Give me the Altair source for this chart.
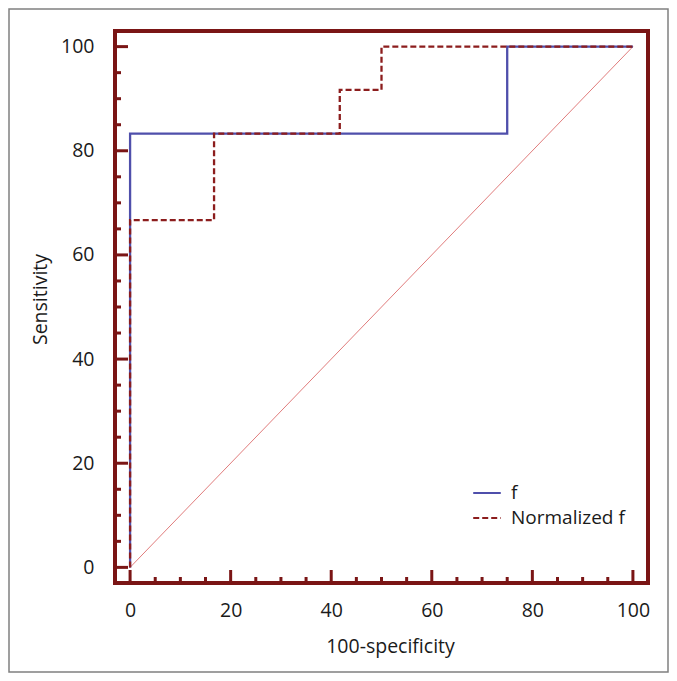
import altair as alt
import pandas as pd

# ROC curve data (100-specificity, sensitivity)
f_x = [0, 0, 75, 75, 100]
f_y = [0, 83.3, 83.3, 100, 100]
n_x = [0, 0, 16.7, 16.7, 41.7, 41.7, 50, 50, 100]
n_y = [0, 66.7, 66.7, 83.3, 83.3, 91.7, 91.7, 100, 100]
series_names = ["f", "Normalized f"]
diag_x = [0, 100]
diag_y = [0, 100]
major_ticks = [0, 20, 40, 60, 80, 100]
minor_ticks = [5, 10, 15, 25, 30, 35, 45, 50, 55, 65, 70, 75, 85, 90, 95]

W, H = 533, 552
FRAME = "#7a1515"
BLUE = "#4f4fab"
MAROON = "#8c1d1d"
FONT = "Open Sans"

rows = []
for i, (x, y) in enumerate(zip(f_x, f_y)):
    rows.append({"series": series_names[0], "i": i, "x": x, "y": y})
for i, (x, y) in enumerate(zip(n_x, n_y)):
    rows.append({"series": series_names[1], "i": i, "x": x, "y": y})
curves = pd.DataFrame(rows)
diag = pd.DataFrame({"x": diag_x, "y": diag_y})
major = pd.DataFrame({"v": major_ticks})
minor = pd.DataFrame({"v": minor_ticks})

xs = alt.Scale(domain=[-3, 103], nice=False, zero=False)
ys = alt.Scale(domain=[-3, 103], nice=False, zero=False)

x_axis = alt.Axis(
    title="100-specificity", values=major_ticks, ticks=False, domain=False,
    grid=False, labelPadding=18, labelFontSize=19.5, labelFont=FONT,
    labelColor="#1a1a1a", titleFontSize=19.5, titleFont=FONT, titleFontWeight="normal",
    titleColor="#1a1a1a", titleX=275, titleY=69, titleAlign="center",
    titleBaseline="alphabetic")
y_axis = alt.Axis(
    title="Sensitivity", values=major_ticks, ticks=False, domain=False,
    grid=False, labelPadding=21, labelFontSize=19.5, labelFont=FONT,
    labelColor="#1a1a1a", titleFontSize=19.5, titleFont=FONT, titleFontWeight="normal",
    titleColor="#1a1a1a", titleX=-69, titleY=268, titleAngle=-90,
    titleAlign="center", titleBaseline="alphabetic")

border = alt.Chart(pd.DataFrame({"a": [0]})).mark_rect(
    filled=False, stroke="#808080", strokeWidth=1.5
).encode(
    x=alt.value(-106), x2=alt.value(553), y=alt.value(-22), y2=alt.value(641)
)

diag_layer = alt.Chart(diag).mark_line(color="#e07c7c", strokeWidth=1).encode(
    x=alt.X("x:Q", scale=xs, axis=x_axis),
    y=alt.Y("y:Q", scale=ys, axis=y_axis),
)

leg = dict(title=None, orient="none", legendX=357, legendY=447,
           symbolType="stroke", symbolSize=760, symbolStrokeWidth=2,
           labelFontSize=19, labelFont=FONT, labelColor="#1a1a1a",
           labelOffset=9, rowPadding=-4, padding=0)

lines = alt.Chart(curves).mark_line(strokeWidth=2.3, interpolate="linear").encode(
    x=alt.X("x:Q", scale=xs, axis=x_axis),
    y=alt.Y("y:Q", scale=ys, axis=y_axis),
    color=alt.Color("series:N", scale=alt.Scale(domain=series_names, range=[BLUE, MAROON]),
                    legend=alt.Legend(**leg)),
    strokeDash=alt.StrokeDash("series:N", scale=alt.Scale(domain=series_names, range=[[1, 0], [6, 3]]),
                              legend=alt.Legend(**leg)),
    order="i:Q",
)

ymaj = alt.Chart(major).mark_rule(color=FRAME, strokeWidth=3).encode(
    y=alt.Y("v:Q", scale=ys, axis=y_axis), x=alt.value(0), x2=alt.value(13))
ymin = alt.Chart(minor).mark_rule(color=FRAME, strokeWidth=3).encode(
    y=alt.Y("v:Q", scale=ys, axis=y_axis), x=alt.value(0), x2=alt.value(6))
xmaj = alt.Chart(major).mark_rule(color=FRAME, strokeWidth=3).encode(
    x=alt.X("v:Q", scale=xs, axis=x_axis), y=alt.value(H), y2=alt.value(H - 13))
xmin = alt.Chart(minor).mark_rule(color=FRAME, strokeWidth=3).encode(
    x=alt.X("v:Q", scale=xs, axis=x_axis), y=alt.value(H), y2=alt.value(H - 6))

chart = alt.layer(border, diag_layer, ymaj, ymin, xmaj, xmin, lines).properties(
    width=W, height=H,
    autosize=alt.AutoSizeParams(type="none"),
    padding={"left": 107, "top": 23, "right": 21, "bottom": 90},
    background="white",
).configure_view(stroke=FRAME, strokeWidth=4)

chart.save("out.html", embed_options={"renderer": "svg", "actions": False})
